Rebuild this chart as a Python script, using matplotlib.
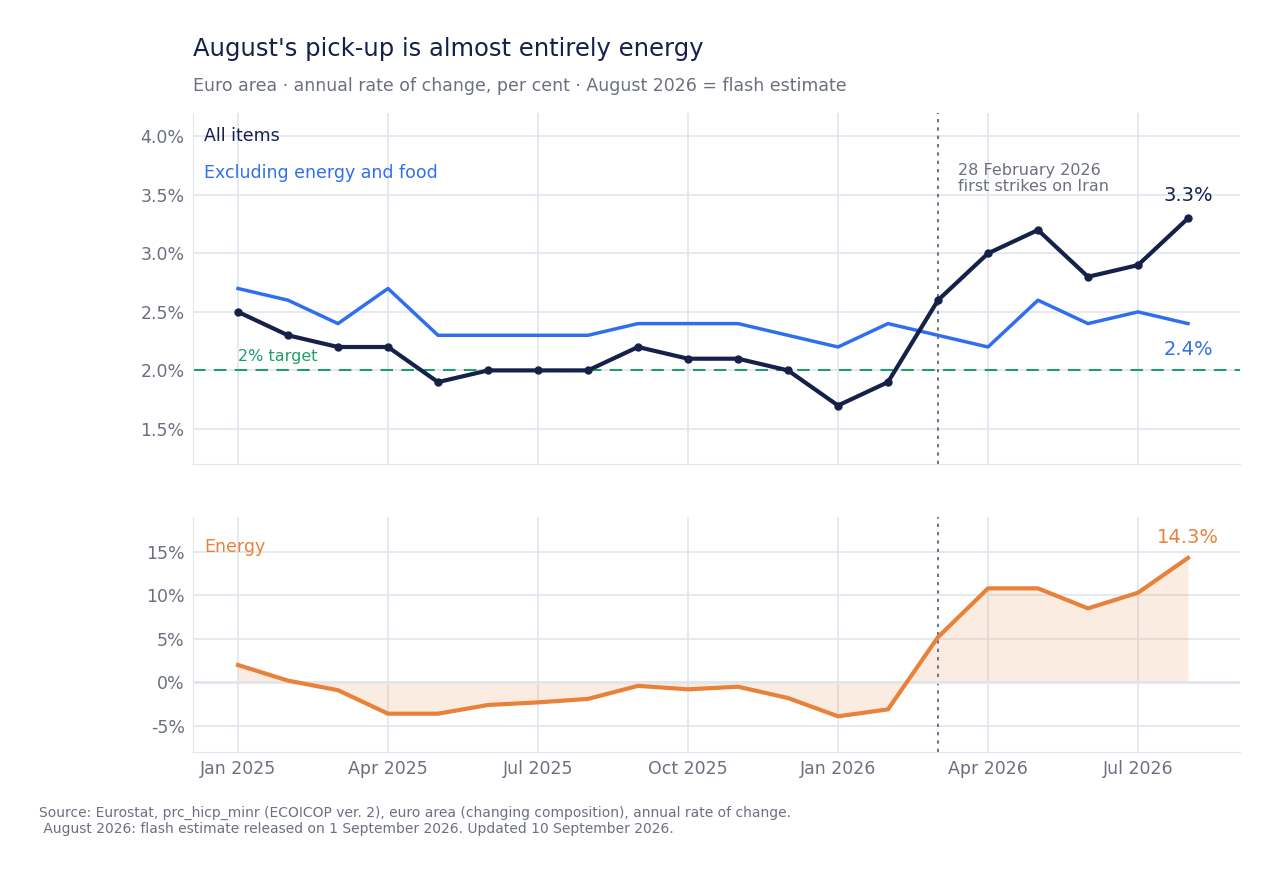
import matplotlib
matplotlib.use("Agg")
import matplotlib.pyplot as plt

months = ["Jan 2025","Feb 2025","Mar 2025","Apr 2025","May 2025","Jun 2025","Jul 2025","Aug 2025","Sep 2025","Oct 2025","Nov 2025","Dec 2025",
          "Jan 2026","Feb 2026","Mar 2026","Apr 2026","May 2026","Jun 2026","Jul 2026","Aug 2026"]
all_items = [2.5,2.3,2.2,2.2,1.9,2.0,2.0,2.0,2.2,2.1,2.1,2.0,1.7,1.9,2.6,3.0,3.2,2.8,2.9,3.3]
core = [2.7,2.6,2.4,2.7,2.3,2.3,2.3,2.3,2.4,2.4,2.4,2.3,2.2,2.4,2.3,2.2,2.6,2.4,2.5,2.4]
energy = [2.0,0.2,-0.9,-3.6,-3.6,-2.6,-2.3,-1.9,-0.4,-0.8,-0.5,-1.8,-3.9,-3.1,5.2,10.8,10.8,8.5,10.3,14.3]
tick_labels = ["Jan 2025","Apr 2025","Jul 2025","Oct 2025","Jan 2026","Apr 2026","Jul 2026"]

NAVY="#16214a"; BLUE="#2f6fef"; ORANGE="#e8823a"; GREEN="#1e9e6a"; GRID="#e3e5ee"; TXT="#6b7080"
x = list(range(len(months)))
W,H = 1278,876
fig = plt.figure(figsize=(W/100,H/100),dpi=100)
def ax_rect(l,t,r,b): return [l/W,1-b/H,(r-l)/W,(b-t)/H]
ax1 = fig.add_axes(ax_rect(193,113,1240,464))
ax2 = fig.add_axes(ax_rect(193,517,1240,752))
for ax in (ax1,ax2):
    ax.set_xlim(-0.9,20.04)
    ax.set_xticks([0,3,6,9,12,15,18])
    ax.grid(True,color=GRID,lw=1.2)
    ax.set_axisbelow(True)
    for s in ["top","right"]: ax.spines[s].set_visible(False)
    for s in ["left","bottom"]: ax.spines[s].set_color(GRID)
    ax.tick_params(length=0,labelsize=12.5,labelcolor=TXT,pad=6)
    ax.axvline(14,color="#555a6a",ls=(0,(2,3)),lw=1.2)
ax1.set_xticklabels([])
ax2.set_xticklabels(tick_labels)

ax1.set_ylim(1.2,4.2)
ax1.set_yticks([1.5,2.0,2.5,3.0,3.5,4.0])
ax1.set_yticklabels([f"{v:.1f}%" for v in [1.5,2.0,2.5,3.0,3.5,4.0]])
ax1.axhline(2.0,color=GREEN,ls=(0,(6,4)),lw=1.5)
ax1.text(0,2.08,"2% target",color=GREEN,fontsize=11.5)
ax1.plot(x,core,color=BLUE,lw=2.5)
ax1.plot(x,all_items,color=NAVY,lw=3,marker="o",ms=5)
ax1.text(-0.68,4.0,"All items",color=NAVY,fontsize=12.5,va="center")
ax1.text(-0.68,3.69,"Excluding energy and food",color=BLUE,fontsize=12.5,va="center")
ax1.text(14.4,3.64,"28 February 2026\nfirst strikes on Iran",color=TXT,fontsize=11.5,va="center",linespacing=1.1)
ax1.text(19,3.45,"3.3%",color=NAVY,fontsize=14,ha="center")
ax1.text(19,2.13,"2.4%",color=BLUE,fontsize=14,ha="center")

ax2.set_ylim(-8,19)
ax2.set_yticks([-5,0,5,10,15])
ax2.set_yticklabels([f"{v}%" for v in [-5,0,5,10,15]])
ax2.axhline(0,color=GRID,lw=2)
ax2.fill_between(x,energy,0,color=ORANGE,alpha=0.15,lw=0)
ax2.plot(x,energy,color=ORANGE,lw=3)
ax2.text(-0.68,15.5,"Energy",color=ORANGE,fontsize=12.5,va="center")
ax2.text(19,16.0,"14.3%",color=ORANGE,fontsize=14,ha="center")

fig.text(193/W,1-49/H,"August's pick-up is almost entirely energy",fontsize=17.5,color=NAVY,va="center")
fig.text(193/W,1-86/H,"Euro area · annual rate of change, per cent · August 2026 = flash estimate",fontsize=12.5,color=TXT,va="center")
fig.text(39/W,1-821/H,"Source: Eurostat, prc_hicp_minr (ECOICOP ver. 2), euro area (changing composition), annual rate of change.\n August 2026: flash estimate released on 1 September 2026. Updated 10 September 2026.",
         fontsize=10,color=TXT,va="center",linespacing=1.2)
fig.savefig("out.png",dpi=100,facecolor="white")
